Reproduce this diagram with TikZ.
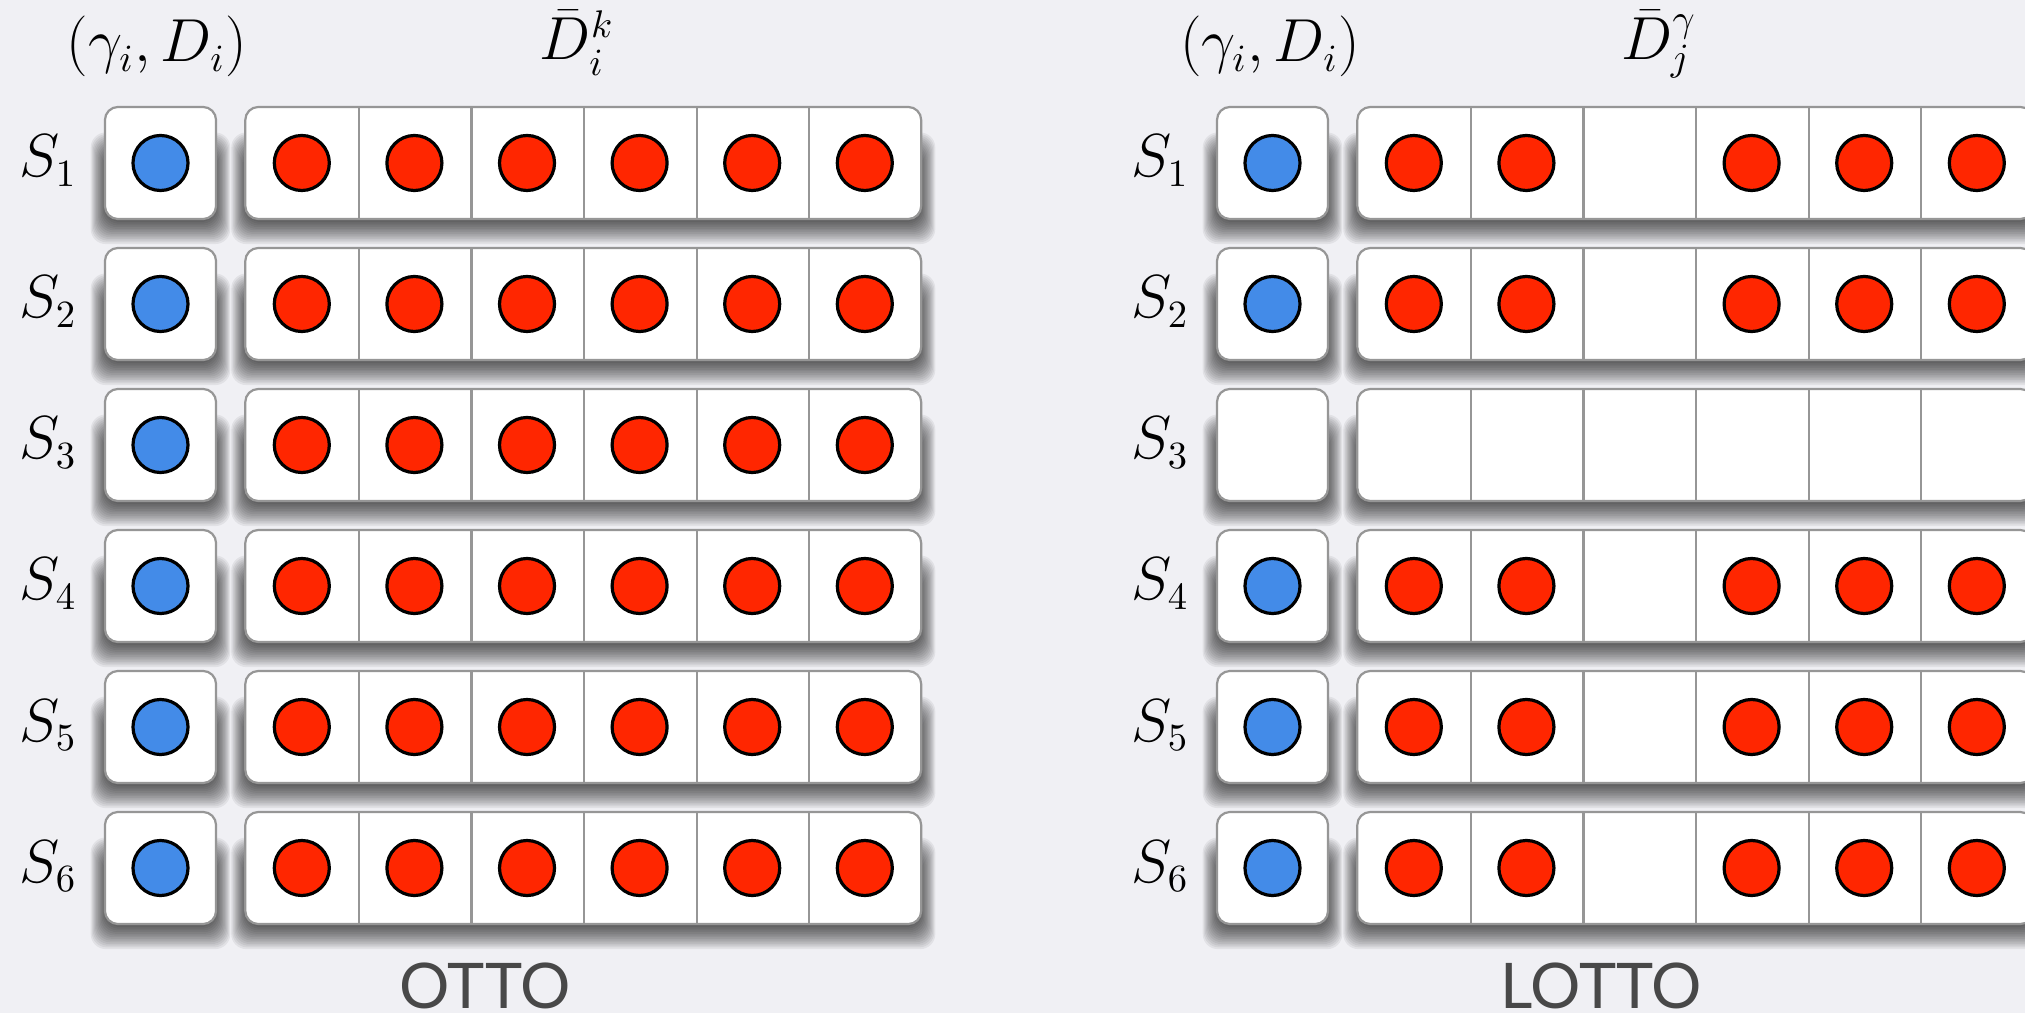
\documentclass[tikz,border=0pt]{standalone}
\usepackage{fontspec}
\newfontfamily\capfont{Lato}
\definecolor{bgcol}{RGB}{240,240,244}
\definecolor{boxgray}{RGB}{150,150,150}
\definecolor{dotblue}{RGB}{67,139,232}
\definecolor{dotred}{RGB}{255,38,0}
\definecolor{capgray}{RGB}{72,72,72}
\newcommand{\myshadow}[4]{%
  \foreach \k in {0,...,13}{%
    \fill[black,opacity=0.058,rounded corners=0.15cm]
      ({#1-1.1*\k},{#2+45-1.5*\k}) rectangle ({#3+1.1*\k},{#4+3+1.7*\k});
  }%
}
\begin{document}
\begin{tikzpicture}[x=0.01cm,y=-0.01cm,
  cellbox/.style={draw=boxgray,line width=0.022cm,fill=white,rounded corners=0.13cm,minimum height=1.12cm,inner sep=0pt},
  gbox/.style={cellbox,minimum width=1.11cm},
  barbox/.style={cellbox,minimum width=6.755cm},
  cellslot/.style={minimum width=1.126cm,minimum height=1.12cm,inner sep=0pt},
  divider/.style={draw=boxgray,line width=0.022cm},
  dot/.style={circle,draw=black,line width=0.032cm,minimum size=0.55cm,inner sep=0pt},
  bluedot/.style={dot,fill=dotblue},
  reddot/.style={dot,fill=dotred},
  mathlab/.style={font=\fontsize{16}{19}\selectfont,inner sep=0pt,anchor=base},
  caplab/.style={font=\capfont\fontsize{17.9}{21}\selectfont,text=capgray,inner sep=0pt,anchor=base}
]
\clip (0,0) rectangle (2025,1013);
\fill[bgcol] (0,0) rectangle (2025,1013);
% shadows
\foreach \o in {0,1112}{
  \foreach \r in {1,...,6}{
    \pgfmathsetmacro\yt{107+141*(\r-1)}
    \pgfmathsetmacro\yb{219+141*(\r-1)}
    \myshadow{105+\o}{\yt}{216+\o}{\yb}
    \myshadow{245.5+\o}{\yt}{921+\o}{\yb}
  }
}
% panels
\foreach \p/\o in {L/0,R/1112}{
  \foreach \r in {1,...,6}{
    \pgfmathsetmacro\yc{163+141*(\r-1)}
    \pgfmathsetmacro\yl{177+141*(\r-1)}
    \node[mathlab] (\p-S\r) at (48+\o,\yl) {$S_{\r}$};
    \node[gbox] (\p-g\r) at (160.5+\o,\yc) {};
    \node[barbox] (\p-bar\r) at (583.25+\o,\yc) {};
    \foreach \c in {1,...,6}{
      \node[cellslot] (\p-c\r-\c) at ({245.5+112.6*(\c-0.5)+\o},\yc) {};
    }
    \foreach \c in {1,...,5}{
      \draw[divider] (\p-c\r-\c.north east) -- (\p-c\r-\c.south east);
    }
  }
}
% dots left (OTTO)
\foreach \r in {1,...,6}{
  \node[bluedot] (L-gd\r) at (L-g\r) {};
  \foreach \c in {1,...,6}{
    \node[reddot] (L-d\r-\c) at (L-c\r-\c) {};
  }
}
% dots right (LOTTO)
\foreach \r in {1,2,4,5,6}{
  \node[bluedot] (R-gd\r) at (R-g\r) {};
  \foreach \c in {1,2,4,5,6}{
    \node[reddot] (R-d\r-\c) at (R-c\r-\c) {};
  }
}
% headers
\node[mathlab] (L-h1) at (157,62) {$(\gamma_i, D_i)$};
\node[mathlab] (L-h2) at (577,60) {$\bar{D}_i^k$};
\node[mathlab] (R-h1) at (1270,62) {$(\gamma_i, D_i)$};
\node[mathlab] (R-h2) at (1659,60) {$\bar{D}_j^\gamma$};
% captions
\node[caplab] (L-cap) at (485,1008) {OTTO};
\node[caplab] (R-cap) at (1601,1008) {LOTTO};
\end{tikzpicture}
\end{document}
